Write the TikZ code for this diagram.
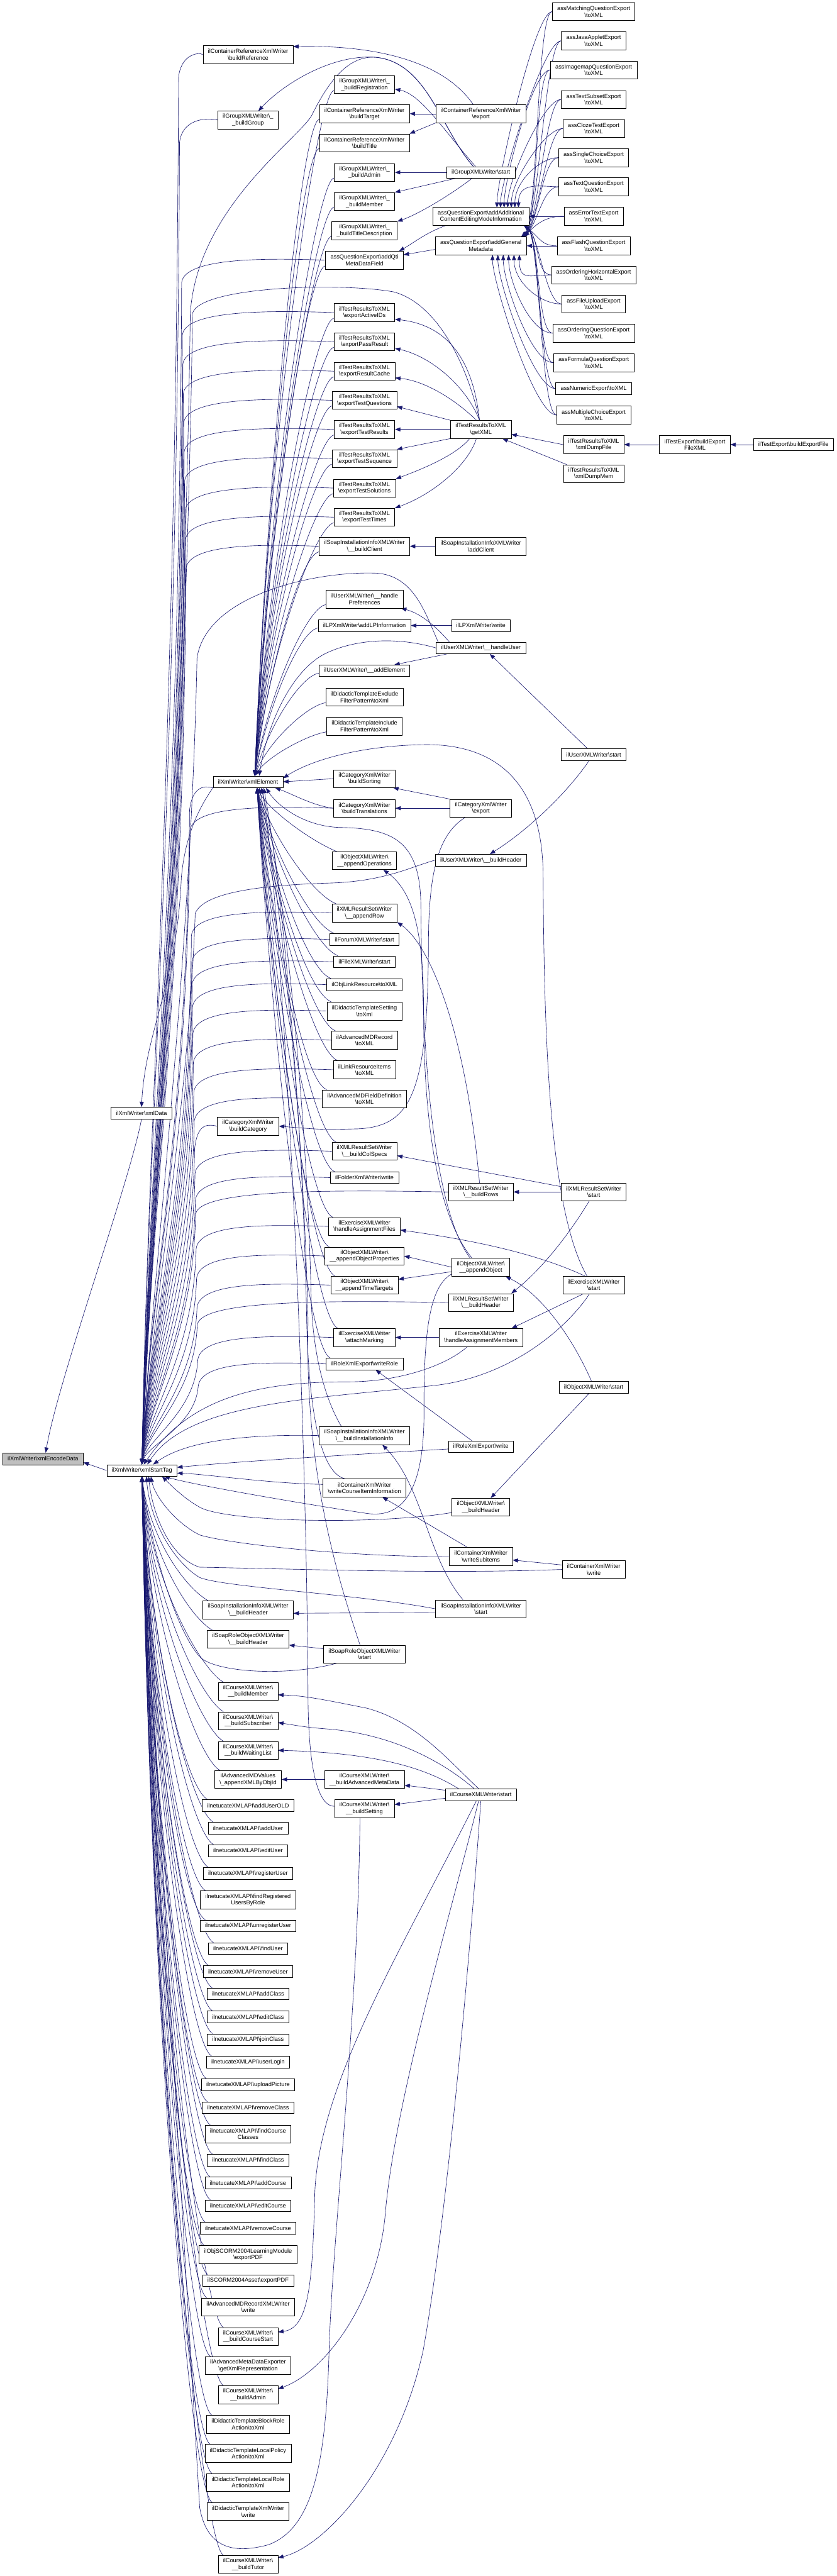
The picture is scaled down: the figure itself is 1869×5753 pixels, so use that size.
\documentclass[tikz,border=0pt]{standalone}
\usepackage{fontspec}
\setmainfont{Liberation Sans}
\usetikzlibrary{arrows.meta,calc}
\definecolor{eb}{HTML}{191970}
\newcommand\bk{\textbackslash}
\newcommand\nf{\fontsize{13}{14.7}\selectfont}
\pgfdeclarelayer{bg}
\pgfdeclarelayer{edges}
\pgfsetlayers{bg,edges,main}
\tikzset{
  nd/.style={draw=black, line width=0.9pt, fill=white, font=\nf, align=center, inner xsep=11pt, inner ysep=0pt, minimum height=26pt},
  nn/.style={nd, minimum height=40pt},
  e/.style={draw=eb, line width=0.9pt, -{Triangle[length=12pt,width=9pt]}},
}
% caller above xmlStartTag -> its top
\newcommand\eU[2][west]{\draw[e] let \p1=(#2.#1) in (\p1) .. controls ({0.45*\x1+241pt},{\y1+6pt}) and ({403pt-0.015*\y1},{\y1+2pt}) .. ({397pt-0.015*\y1},{\y1-50pt}) .. controls ({391pt-0.015*\y1},{0.5*\y1-1660pt}) and ({330pt},{0.25*\y1-2466pt}) .. (stag.north);}
% caller below xmlStartTag -> its bottom
\newcommand\eD[1]{\draw[e] let \p1=(#1.north west) in ({\x1+12pt},{\y1}) .. controls ({\x1-40pt},{\y1+30pt}) and ({335pt},{0.5*\y1-1648pt}) .. (stag.south);}
% caller above xmlElement -> its top
\newcommand\eEa[1]{\draw[e] let \p1=(#1.south west) in ({\x1},{\y1+8pt}) .. controls ({\x1-40pt},{\y1+2pt}) and ({600pt},{0.5*\y1-866pt}) .. ([xshift=15pt]xel.north);}
% caller below xmlElement -> its bottom
\newcommand\eEb[1]{\draw[e] let \p1=(#1.north west) in ({\x1+10pt},{\y1}) .. controls ({\x1-50pt},{\y1+25pt}) and ({600pt},{0.35*\y1-1143pt}) .. ([xshift=20pt]xel.south);}

\begin{document}
\begin{tikzpicture}[x=1pt,y=1pt]
\begin{pgfonlayer}{bg}
\fill[white] (0,0) rectangle (1869,-5753);
\end{pgfonlayer}
\useasboundingbox (0,0) rectangle (1869,-5753);

% ---------- columns 1-2
\node[nd,fill=black!25] (enc) at (96,-3258) {ilXmlWriter\bk xmlEncodeData};
\node[nd] (xdata) at (316,-2486) {ilXmlWriter\bk xmlData};
\node[nd] (stag) at (317,-3284) {ilXmlWriter\bk xmlStartTag};

% ---------- column 3
\node[nn] (cBuildRef) at (554,-122) {ilContainerReferenceXmlWriter\\\bk buildReference};
\node[nn] (gBuildGroup) at (554,-268) {ilGroupXMLWriter\bk\_\\\_buildGroup};
\node[nd] (xel) at (554,-1746) {ilXmlWriter\bk xmlElement};
\node[nn] (catBuildCat) at (554,-2515) {ilCategoryXmlWriter\\\bk buildCategory};
\node[nn] (siBuildHeader) at (554,-3595) {ilSoapInstallationInfoXMLWriter\\\bk\_\_buildHeader};
\node[nn] (srBuildHeader) at (554,-3661) {ilSoapRoleObjectXMLWriter\\\bk\_\_buildHeader};
\node[nn] (cBuildMember) at (554,-3777) {ilCourseXMLWriter\bk\\\_\_buildMember};
\node[nn] (cBuildSubscriber) at (554,-3843) {ilCourseXMLWriter\bk\\\_\_buildSubscriber};
\node[nn] (cBuildWaiting) at (554,-3909) {ilCourseXMLWriter\bk\\\_\_buildWaitingList};
\node[nn] (advAppend) at (554,-3974) {ilAdvancedMDValues\\\bk\_appendXMLByObjId};
\node[nd] (n01) at (554,-4032) {ilnetucateXMLAPI\bk addUserOLD};
\node[nd] (n02) at (554,-4083) {ilnetucateXMLAPI\bk addUser};
\node[nd] (n03) at (554,-4133) {ilnetucateXMLAPI\bk editUser};
\node[nd] (n04) at (554,-4184) {ilnetucateXMLAPI\bk registerUser};
\node[nn] (n05) at (554,-4243) {ilnetucateXMLAPI\bk findRegistered\\UsersByRole};
\node[nd] (n06) at (554,-4301) {ilnetucateXMLAPI\bk unregisterUser};
\node[nd] (n07) at (554,-4352) {ilnetucateXMLAPI\bk findUser};
\node[nd] (n08) at (554,-4403) {ilnetucateXMLAPI\bk removeUser};
\node[nd] (n09) at (554,-4453) {ilnetucateXMLAPI\bk addClass};
\node[nd] (n10) at (554,-4504) {ilnetucateXMLAPI\bk editClass};
\node[nd] (n11) at (554,-4555) {ilnetucateXMLAPI\bk joinClass};
\node[nd] (n12) at (554,-4605) {ilnetucateXMLAPI\bk userLogin};
\node[nd] (n13) at (554,-4656) {ilnetucateXMLAPI\bk uploadPicture};
\node[nd] (n14) at (554,-4707) {ilnetucateXMLAPI\bk removeClass};
\node[nn] (n15) at (554,-4766) {ilnetucateXMLAPI\bk findCourse\\Classes};
\node[nd] (n16) at (554,-4824) {ilnetucateXMLAPI\bk findClass};
\node[nd] (n17) at (554,-4875) {ilnetucateXMLAPI\bk addCourse};
\node[nd] (n18) at (554,-4926) {ilnetucateXMLAPI\bk editCourse};
\node[nd] (n19) at (554,-4976) {ilnetucateXMLAPI\bk removeCourse};
\node[nn] (scormLM) at (554,-5035) {ilObjSCORM2004LearningModule\\\bk exportPDF};
\node[nd] (scormAsset) at (554,-5093) {ilSCORM2004Asset\bk exportPDF};
\node[nn] (advRecWriter) at (554,-5152) {ilAdvancedMDRecordXMLWriter\\\bk write};
\node[nn] (cBuildCourseStart) at (554,-5218) {ilCourseXMLWriter\bk\\\_\_buildCourseStart};
\node[nn] (advExporter) at (554,-5283) {ilAdvancedMetaDataExporter\\\bk getXmlRepresentation};
\node[nn] (cBuildAdmin) at (554,-5348) {ilCourseXMLWriter\bk\\\_\_buildAdmin};
\node[nn] (dtBlock) at (554,-5414) {ilDidacticTemplateBlockRole\\Action\bk toXml};
\node[nn] (dtPolicy) at (554,-5479) {ilDidacticTemplateLocalPolicy\\Action\bk toXml};
\node[nn] (dtLocalRole) at (554,-5544) {ilDidacticTemplateLocalRole\\Action\bk toXml};
\node[nn] (dtWriter) at (554,-5609) {ilDidacticTemplateXmlWriter\\\bk write};
\node[nn] (cBuildTutor) at (554,-5727) {ilCourseXMLWriter\bk\\\_\_buildTutor};

% ---------- column 4
\node[nn] (gReg) at (814,-189) {ilGroupXMLWriter\bk\_\\\_buildRegistration};
\node[nn] (crTarget) at (814,-254) {ilContainerReferenceXmlWriter\\\bk buildTarget};
\node[nn] (crTitle) at (814,-319) {ilContainerReferenceXmlWriter\\\bk buildTitle};
\node[nn] (gAdmin) at (814,-385) {ilGroupXMLWriter\bk\_\\\_buildAdmin};
\node[nn] (gMember) at (814,-450) {ilGroupXMLWriter\bk\_\\\_buildMember};
\node[nn] (gTitleDesc) at (814,-515) {ilGroupXMLWriter\bk\_\\\_buildTitleDescription};
\node[nn] (qQti) at (814,-581) {assQuestionExport\bk addQti\\MetaDataField};
\node[nn] (tActive) at (814,-698) {ilTestResultsToXML\\\bk exportActiveIDs};
\node[nn] (tPass) at (814,-763) {ilTestResultsToXML\\\bk exportPassResult};
\node[nn] (tCache) at (814,-829) {ilTestResultsToXML\\\bk exportResultCache};
\node[nn] (tQuest) at (814,-894) {ilTestResultsToXML\\\bk exportTestQuestions};
\node[nn] (tRes) at (814,-959) {ilTestResultsToXML\\\bk exportTestResults};
\node[nn] (tSeq) at (814,-1024) {ilTestResultsToXML\\\bk exportTestSequence};
\node[nn] (tSol) at (814,-1090) {ilTestResultsToXML\\\bk exportTestSolutions};
\node[nn] (tTimes) at (814,-1155) {ilTestResultsToXML\\\bk exportTestTimes};
\node[nn] (siClient) at (814,-1220) {ilSoapInstallationInfoXMLWriter\\\bk\_\_buildClient};
\node[nn] (uPrefs) at (814,-1338) {ilUserXMLWriter\bk\_\_handle\\Preferences};
\node[nd] (lpInfo) at (814,-1397) {ilLPXmlWriter\bk addLPInformation};
\node[nd] (uAddEl) at (814,-1498) {ilUserXMLWriter\bk\_\_addElement};
\node[nn] (dtExcl) at (814,-1557) {ilDidacticTemplateExclude\\FilterPattern\bk toXml};
\node[nn] (dtIncl) at (814,-1622) {ilDidacticTemplateInclude\\FilterPattern\bk toXml};
\node[nn] (catSort) at (814,-1739) {ilCategoryXmlWriter\\\bk buildSorting};
\node[nn] (catTrans) at (814,-1805) {ilCategoryXmlWriter\\\bk buildTranslations};
\node[nn] (oOps) at (814,-1922) {ilObjectXMLWriter\bk\\\_\_appendOperations};
\node[nn] (rsRow) at (814,-2039) {ilXMLResultSetWriter\\\bk\_\_appendRow};
\node[nd] (forum) at (814,-2098) {ilForumXMLWriter\bk start};
\node[nd] (file) at (814,-2148) {ilFileXMLWriter\bk start};
\node[nd] (objLink) at (814,-2199) {ilObjLinkResource\bk toXML};
\node[nn] (dtSetting) at (814,-2258) {ilDidacticTemplateSetting\\\bk toXml};
\node[nn] (advRec) at (814,-2323) {ilAdvancedMDRecord\\\bk toXML};
\node[nn] (linkItems) at (814,-2389) {ilLinkResourceItems\\\bk toXML};
\node[nn] (advField) at (814,-2454) {ilAdvancedMDFieldDefinition\\\bk toXML};
\node[nn] (rsColSpecs) at (814,-2571) {ilXMLResultSetWriter\\\bk\_\_buildColSpecs};
\node[nd] (folder) at (814,-2630) {ilFolderXmlWriter\bk write};
\node[nn] (exFiles) at (814,-2739) {ilExerciseXMLWriter\\\bk handleAssignmentFiles};
\node[nn] (oProps) at (814,-2805) {ilObjectXMLWriter\bk\\\_\_appendObjectProperties};
\node[nn] (oTime) at (814,-2870) {ilObjectXMLWriter\bk\\\_\_appendTimeTargets};
\node[nn] (exMarking) at (814,-2987) {ilExerciseXMLWriter\\\bk attachMarking};
\node[nd] (roleWriteRole) at (814,-3046) {ilRoleXmlExport\bk writeRole};
\node[nn] (siInstall) at (814,-3206) {ilSoapInstallationInfoXMLWriter\\\bk\_\_buildInstallationInfo};
\node[nn] (cxCourseItem) at (814,-3323) {ilContainerXmlWriter\\\bk writeCourseItemInformation};
\node[nn] (srStart) at (814,-3694) {ilSoapRoleObjectXMLWriter\\\bk start};
\node[nn] (cAdvMeta) at (814,-3974) {ilCourseXMLWriter\bk\\\_\_buildAdvancedMetaData};
\node[nn] (cSetting) at (814,-4039) {ilCourseXMLWriter\bk\\\_\_buildSetting};

% ---------- column 5
\node[nn] (crExport) at (1074,-254) {ilContainerReferenceXmlWriter\\\bk export};
\node[nd] (gStart) at (1074,-385) {ilGroupXMLWriter\bk start};
\node[nn] (qAdd) at (1074,-483) {assQuestionExport\bk addAdditional\\ContentEditingModeInformation};
\node[nn] (qGen) at (1074,-549) {assQuestionExport\bk addGeneral\\Metadata};
\node[nn] (tGetXML) at (1074,-959) {ilTestResultsToXML\\\bk getXML};
\node[nn] (siAddClient) at (1074,-1220) {ilSoapInstallationInfoXMLWriter\\\bk addClient};
\node[nd] (lpWrite) at (1074,-1397) {ilLPXmlWriter\bk write};
\node[nd] (uHandleUser) at (1074,-1447) {ilUserXMLWriter\bk\_\_handleUser};
\node[nn] (catExport) at (1074,-1805) {ilCategoryXmlWriter\\\bk export};
\node[nd] (uBuildHeader) at (1074,-1921) {ilUserXMLWriter\bk\_\_buildHeader};
\node[nn] (rsRows) at (1074,-2662) {ilXMLResultSetWriter\\\bk\_\_buildRows};
\node[nn] (oAppend) at (1074,-2830) {ilObjectXMLWriter\bk\\\_\_appendObject};
\node[nn] (rsHeader) at (1074,-2909) {ilXMLResultSetWriter\\\bk\_\_buildHeader};
\node[nn] (exMembers) at (1074,-2987) {ilExerciseXMLWriter\\\bk handleAssignmentMembers};
\node[nd] (roleWrite) at (1074,-3231) {ilRoleXmlExport\bk write};
\node[nn] (oBuildHeader) at (1074,-3366) {ilObjectXMLWriter\bk\\\_\_buildHeader};
\node[nn] (cxSubitems) at (1074,-3476) {ilContainerXmlWriter\\\bk writeSubitems};
\node[nn] (siStart) at (1074,-3593) {ilSoapInstallationInfoXMLWriter\\\bk start};
\node[nd] (cStart) at (1074,-4008) {ilCourseXMLWriter\bk start};

% ---------- column 6
\node[nn] (a1) at (1326,-26) {assMatchingQuestionExport\\\bk toXML};
\node[nn] (a2) at (1326,-91) {assJavaAppletExport\\\bk toXML};
\node[nn] (a3) at (1326,-156) {assImagemapQuestionExport\\\bk toXML};
\node[nn] (a4) at (1326,-222) {assTextSubsetExport\\\bk toXML};
\node[nn] (a5) at (1326,-287) {assClozeTestExport\\\bk toXML};
\node[nn] (a6) at (1326,-352) {assSingleChoiceExport\\\bk toXML};
\node[nn] (a7) at (1326,-417) {assTextQuestionExport\\\bk toXML};
\node[nn] (a8) at (1326,-483) {assErrorTextExport\\\bk toXML};
\node[nn] (a9) at (1326,-549) {assFlashQuestionExport\\\bk toXML};
\node[nn] (a10) at (1326,-614) {assOrderingHorizontalExport\\\bk toXML};
\node[nn] (a11) at (1326,-679) {assFileUploadExport\\\bk toXML};
\node[nn] (a12) at (1326,-744) {assOrderingQuestionExport\\\bk toXML};
\node[nn] (a13) at (1326,-810) {assFormulaQuestionExport\\\bk toXML};
\node[nd] (a14) at (1326,-868) {assNumericExport\bk toXML};
\node[nn] (a15) at (1326,-927) {assMultipleChoiceExport\\\bk toXML};
\node[nn] (tDumpFile) at (1326,-993) {ilTestResultsToXML\\\bk xmlDumpFile};
\node[nn] (tDumpMem) at (1326,-1058) {ilTestResultsToXML\\\bk xmlDumpMem};
\node[nd] (uStart) at (1326,-1685) {ilUserXMLWriter\bk start};
\node[nn] (rsStart) at (1326,-2662) {ilXMLResultSetWriter\\\bk start};
\node[nn] (exStart) at (1326,-2870) {ilExerciseXMLWriter\\\bk start};
\node[nd] (oStart) at (1326,-3098) {ilObjectXMLWriter\bk start};
\node[nn] (cxWrite) at (1326,-3505) {ilContainerXmlWriter\\\bk write};

% ---------- columns 7-8
\node[nn] (teXML) at (1552,-993) {ilTestExport\bk buildExport\\FileXML};
\node[nd] (teFile) at (1772,-993) {ilTestExport\bk buildExportFile};

\begin{pgfonlayer}{edges}
% core
\draw[e] (xdata.south) .. controls (290,-2640) and (130,-3080) .. ([xshift=6pt]enc.north);
\draw[e] (stag.west) -- ([yshift=-8pt]enc.east);
\draw[e] (xel.south west) .. controls (455,-1790) and (415,-1850) .. (405,-1960) .. controls (395,-2200) and (325,-2300) .. (xdata.north);
\eU[south west]{xel}

% upper fan into xmlStartTag
\foreach \c in {cBuildRef,gBuildGroup,qQti,tActive,tPass,tCache,tQuest,tRes,tSeq,tSol,tTimes,siClient,catTrans,catBuildCat,rsRow,forum,file,objLink,dtSetting,advRec,linkItems,advField,rsColSpecs,folder,rsRows,exFiles,oProps,oTime,rsHeader,exMarking,roleWriteRole}{\eU{\c}}

% lower fan into xmlStartTag
\foreach \c in {siBuildHeader,srBuildHeader,cBuildMember,cBuildSubscriber,cBuildWaiting,advAppend,n01,n02,n03,n04,n05,n06,n07,n08,n09,n10,n11,n12,n13,n14,n15,n16,n17,n18,n19,scormLM,scormAsset,advRecWriter,cBuildCourseStart,advExporter,cBuildAdmin,dtBlock,dtPolicy,dtLocalRole,dtWriter,cBuildTutor}{\eD{\c}}

% into xmlElement
\foreach \c in {gReg,crTarget,crTitle,gAdmin,gMember,gTitleDesc,qQti,tActive,tPass,tCache,tQuest,tRes,tSeq,tSol,tTimes,siClient,uPrefs,lpInfo,uAddEl,dtExcl,dtIncl}{\eEa{\c}}
\foreach \c in {oOps,rsRow,forum,file,objLink,dtSetting,advRec,linkItems,advField,rsColSpecs,folder,exFiles,oProps,oTime,exMarking,roleWriteRole}{\eEb{\c}}
\draw[e] (catSort.west) -- (xel.east);
\draw[e] (catTrans.west) .. controls (700,-1800) and (650,-1772) .. ([xshift=-18pt]xel.south east);

% container reference / group
\draw[e] ([xshift=-17pt]crExport.north) .. controls (1000,-150) and (870,-100) .. ([yshift=18pt]cBuildRef.east);
\draw[e] (crExport.west) -- (crTarget.east);
\draw[e] (crExport.south west) -- (crTitle.north east);
\draw[e] ([xshift=-17pt]gStart.north) .. controls (985,-290) and (955,-140) .. (840,-128) .. controls (740,-120) and (630,-190) .. (577,-248);
\draw[e] ([xshift=-17pt]gStart.north) .. controls (985,-290) and (955,-140) .. (840,-128) .. controls (770,-122) and (725,-200) .. (695,-260) .. controls (655,-320) and (440,-470) .. (425,-700) .. controls (410,-1800) and (330,-2900) .. (stag.north);
\draw[e] ([xshift=-12pt]gStart.north) .. controls (990,-290) and (940,-210) .. ([yshift=-10pt]gReg.east);
\draw[e] (gStart.west) -- (gAdmin.east);
\draw[e] ([xshift=20pt]gStart.south west) -- (gMember.north east);
\draw[e] ([xshift=-20pt]gStart.south) .. controls (1000,-440) and (930,-480) .. (gTitleDesc.north east);

% assessment question export
\draw[e] ([xshift=30pt]qAdd.south west) .. controls (950,-520) and (920,-545) .. ([xshift=-10pt]qQti.north east);
\draw[e] ([yshift=-8pt]qGen.west) -- ([yshift=12pt]qQti.east);
\foreach \n/\t in {a1/1110,a2/1118,a3/1126,a4/1134,a5/1142,a6/1150,a7/1158}{\draw[e] (\n.west) .. controls +(-40,0) and +(0,60) .. (\t,-464);}
\foreach \n/\t in {a1/1164,a2/1165,a3/1166,a4/1167,a5/1168,a6/1169,a7/1170,a8/1171}{\draw[e] (\n.west) .. controls +(-35,0) and (1202,-495) .. (\t,-529);}
\draw[e] (a8.west) -- (qAdd.east);
\draw[e] (a9.west) -- (qGen.east);
\foreach \n in {a9,a10,a11,a12,a13,a14,a15}{\draw[e] (\n.west) .. controls +(-35,0) and (1205,-530) .. (1170,-503);}
\foreach \n/\t in {a10/1160,a11/1148,a12/1136,a13/1124,a14/1112,a15/1100}{\draw[e] (\n.west) .. controls +(-50,0) and +(0,-60) .. (\t,-569);}

% test results
\draw[e] ([xshift=-3pt]tGetXML.north) .. controls (1055,-790) and (990,-725) .. ([yshift=-15pt]tActive.east);
\draw[e] ([xshift=-3pt]tGetXML.north) .. controls (1040,-860) and (960,-795) .. ([yshift=-15pt]tPass.east);
\draw[e] ([xshift=-10pt]tGetXML.north) .. controls (1020,-895) and (950,-850) .. ([yshift=-15pt]tCache.east);
\draw[e] (tGetXML.north west) -- ([yshift=-14pt]tQuest.east);
\draw[e] (tGetXML.west) -- (tRes.east);
\draw[e] (tGetXML.south west) -- (tSeq.north east);
\draw[e] ([xshift=-25pt]tGetXML.south) .. controls (1020,-1015) and (950,-1045) .. (tSol.north east);
\draw[e] ([xshift=-10pt]tGetXML.south) .. controls (1045,-1040) and (965,-1105) .. (tTimes.north east);
\draw[e] ([xshift=-3pt]tGetXML.north) .. controls (1045,-820) and (980,-680) .. (880,-652) .. controls (760,-630) and (445,-640) .. (430,-700) .. controls (415,-1800) and (330,-2900) .. (stag.north);
\draw[e] (tDumpFile.west) -- ([yshift=-11pt]tGetXML.east);
\draw[e] ([xshift=8pt]tDumpMem.north west) -- ([xshift=-20pt]tGetXML.south east);
\draw[e] (teXML.west) -- (tDumpFile.east);
\draw[e] (teFile.west) -- (teXML.east);

% soap / LP / user
\draw[e] (siAddClient.west) -- (siClient.east);
\draw[e] (lpWrite.west) -- (lpInfo.east);
\draw[e] ([xshift=30pt]uHandleUser.north west) .. controls (975,-1400) and (940,-1370) .. ([xshift=-5pt]uPrefs.south east);
\draw[e] ([xshift=25pt]uHandleUser.south west) -- ([xshift=-35pt]uAddEl.north east);
\draw[e] ([xshift=5pt]uHandleUser.north west) .. controls (950,-1370) and (925,-1285) .. (840,-1280) .. controls (700,-1275) and (460,-1330) .. (440,-1470) .. controls (425,-2200) and (330,-2950) .. (stag.north);
\draw[e] (uHandleUser.west) .. controls (880,-1420) and (790,-1430) .. (730,-1458) .. controls (660,-1490) and (600,-1600) .. ([xshift=25pt]xel.north);
\draw[e] ([xshift=-14pt]uStart.north) -- ([xshift=20pt]uHandleUser.south);
\draw[e] ([xshift=-10pt]uStart.south) .. controls (1260,-1780) and (1170,-1860) .. ([xshift=20pt]uBuildHeader.north);
\draw[e] (uBuildHeader.west) .. controls (920,-1935) and (860,-1968) .. (740,-1972) .. controls (600,-1976) and (455,-1990) .. (436,-2040) .. controls (420,-2500) and (330,-3000) .. (stag.north);

% category
\draw[e] (catExport.north west) -- ([xshift=-5pt]catSort.south east);
\draw[e] (catExport.west) -- (catTrans.east);
\draw[e] ([xshift=-35pt]catExport.south) .. controls (985,-1860) and (958,-1930) .. (957,-2100) .. controls (956,-2440) and (920,-2515) .. (800,-2521) .. controls (720,-2523) .. (catBuildCat.east);

% result set writer
\draw[e] ([xshift=-3pt]rsRows.north) .. controls (1040,-2300) and (960,-2110) .. (rsRow.south east);
\draw[e] (rsStart.west) -- (rsRows.east);
\draw[e] ([yshift=12pt]rsStart.west) -- ([yshift=-10pt]rsColSpecs.east);
\draw[e] ([xshift=-10pt]rsStart.south) .. controls (1250,-2790) and (1190,-2850) .. ([xshift=-5pt]rsHeader.north east);

% exercise
\draw[e] ([xshift=-20pt]exStart.north) .. controls (1200,-2800) and (1060,-2770) .. ([yshift=-8pt]exFiles.east);
\draw[e] ([xshift=-25pt]exStart.south) -- ([xshift=-25pt]exMembers.north east);
\draw[e] ([xshift=-15pt]exStart.north) .. controls (1225,-2700) and (1215,-2300) .. (1213,-1950) .. controls (1210,-1720) and (1080,-1662) .. (950,-1663) .. controls (800,-1665) and (690,-1700) .. ([yshift=8pt]xel.east);
\draw[e] ([xshift=-10pt]exStart.south) .. controls (1270,-2960) and (1150,-3070) .. (980,-3093) .. controls (700,-3125) and (420,-3130) .. ([xshift=12pt]stag.north);
\draw[e] (exMembers.west) -- (exMarking.east);
\draw[e] ([xshift=-30pt]exMembers.south) .. controls (990,-3055) and (880,-3086) .. (780,-3086) .. controls (600,-3086) and (430,-3110) .. ([xshift=4pt]stag.north);

% object writer
\draw[e] ([xshift=-20pt]oAppend.north) .. controls (965,-2700) and (946,-2450) .. (946,-2250) .. controls (946,-2060) and (915,-1985) .. ([xshift=-30pt]oOps.south east);
\draw[e] ([xshift=-24pt]oAppend.north) .. controls (960,-2690) and (942,-2300) .. (940,-2020) .. controls (938,-1880) and (880,-1850) .. (760,-1848) .. controls (680,-1846) and (620,-1800) .. ([xshift=40pt]xel.south);
\draw[e] (oAppend.west) -- (oProps.east);
\draw[e] ([yshift=-10pt]oAppend.west) -- ([yshift=13pt]oTime.east);
\draw[e] ([yshift=-15pt]oAppend.west) .. controls (965,-2870) and (946,-2950) .. (947,-3150) .. controls (948,-3320) and (905,-3392) .. (820,-3380) .. controls (700,-3362) and (450,-3320) .. ([xshift=50pt]stag.south);
\draw[e] ([xshift=-5pt]oStart.north) .. controls (1280,-2990) and (1210,-2890) .. ([xshift=-10pt]oAppend.south east);
\draw[e] ([xshift=-10pt]oStart.south) -- ([xshift=22pt]oBuildHeader.north);
\draw[e] ([yshift=-12pt]oBuildHeader.west) .. controls (850,-3405) and (520,-3400) .. (450,-3368) .. controls (415,-3350) and (385,-3320) .. ([xshift=45pt]stag.south);

% role export
\draw[e] ([xshift=-20pt]roleWrite.north) -- ([xshift=25pt]roleWriteRole.south);
\draw[e] ([yshift=-5pt]roleWrite.west) .. controls (850,-3245) and (550,-3262) .. ([yshift=7pt]stag.east);

% soap installation info
\draw[e] ([xshift=-40pt]siStart.north) .. controls (955,-3480) and (945,-3320) .. ([xshift=40pt]siInstall.south);
\draw[e] ([yshift=-8pt]siStart.west) -- ([yshift=-8pt]siBuildHeader.east);
\draw[e] (siStart.west) .. controls (800,-3560) and (500,-3545) .. (446,-3523) .. controls (390,-3490) and (335,-3400) .. ([xshift=10pt]stag.south);
\draw[e] (siInstall.west) .. controls (560,-3203) and (420,-3215) .. ([xshift=25pt]stag.north);
\draw[e] ([xshift=50pt]siInstall.north west) .. controls (735,-3140) and (700,-3050) .. (695,-2900) .. controls (685,-2450) and (630,-1950) .. ([xshift=30pt]xel.south);

% container writer
\draw[e] ([xshift=-30pt]cxSubitems.north) -- ([xshift=40pt]cxCourseItem.south);
\draw[e] (cxSubitems.west) .. controls (800,-3478) and (520,-3450) .. (446,-3428) .. controls (390,-3400) and (345,-3340) .. ([xshift=20pt]stag.south);
\draw[e] ([yshift=10pt]cxWrite.west) -- ([yshift=-8pt]cxSubitems.east);
\draw[e] (cxWrite.west) .. controls (1000,-3515) and (700,-3505) .. (446,-3500) .. controls (380,-3480) and (340,-3380) .. ([xshift=15pt]stag.south);
\draw[e] ([yshift=8pt]cxCourseItem.west) .. controls (600,-3313) and (460,-3292) .. ([yshift=-6pt]stag.east);
\draw[e] ([xshift=50pt]cxCourseItem.north west) .. controls (715,-3290) and (690,-3150) .. (685,-2950) .. controls (676,-2450) and (625,-1950) .. ([xshift=35pt]xel.south);

% soap role object
\draw[e] ([yshift=12pt]srStart.west) -- ([yshift=-13pt]srBuildHeader.east);
\draw[e] ([xshift=30pt]srStart.south west) .. controls (640,-3745) and (480,-3735) .. (446,-3700) .. controls (385,-3630) and (330,-3420) .. (stag.south);
\draw[e] ([xshift=-10pt]srStart.north) .. controls (760,-3540) and (680,-3300) .. (688,-2950) .. controls (676,-2450) and (620,-1950) .. ([xshift=25pt]xel.south);

% course writer
\draw[e] ([xshift=-5pt]cStart.north) .. controls (1000,-3930) and (930,-3845) .. (820,-3815) .. controls (720,-3795) and (680,-3787) .. ([yshift=-8pt]cBuildMember.east);
\draw[e] ([xshift=-15pt]cStart.north) .. controls (990,-3935) and (880,-3875) .. (740,-3862) .. controls (690,-3858) .. ([yshift=-4pt]cBuildSubscriber.east);
\draw[e] ([xshift=30pt]cStart.north west) .. controls (960,-3955) and (860,-3915) .. (cBuildWaiting.east);
\draw[e] ([yshift=10pt]cStart.west) -- ([yshift=-13pt]cAdvMeta.east);
\draw[e] ([yshift=-8pt]cStart.west) -- ([yshift=9pt]cSetting.east);
\draw[e] (cAdvMeta.west) -- (advAppend.east);
\draw[e] ([xshift=-10pt]cStart.south) .. controls (900,-4350) and (712,-4650) .. (703,-4900) .. controls (698,-5100) and (690,-5200) .. ([yshift=10pt]cBuildCourseStart.east);
\draw[e] ([xshift=-5pt]cStart.south) .. controls (1000,-4300) and (880,-4700) .. (860,-4950) .. controls (840,-5150) and (720,-5300) .. ([yshift=13pt]cBuildAdmin.east);
\draw[e] (cStart.south) .. controls (1040,-4500) and (990,-5000) .. (945,-5250) .. controls (885,-5520) and (720,-5690) .. ([yshift=15pt]cBuildTutor.east);
\draw[e] ([yshift=5pt]cSetting.west) .. controls (712,-4034) and (690,-3960) .. (688,-3800) .. controls (684,-3000) and (622,-1950) .. ([xshift=30pt]xel.south);
\draw[e] ([xshift=-10pt]cSetting.south) .. controls (800,-4500) and (742,-5000) .. (735,-5250) .. controls (728,-5500) and (700,-5645) .. (600,-5683) .. controls (520,-5705) and (462,-5690) .. (446,-5600) .. controls (410,-5000) and (335,-3700) .. (stag.south);
\end{pgfonlayer}
\end{tikzpicture}
\end{document}
